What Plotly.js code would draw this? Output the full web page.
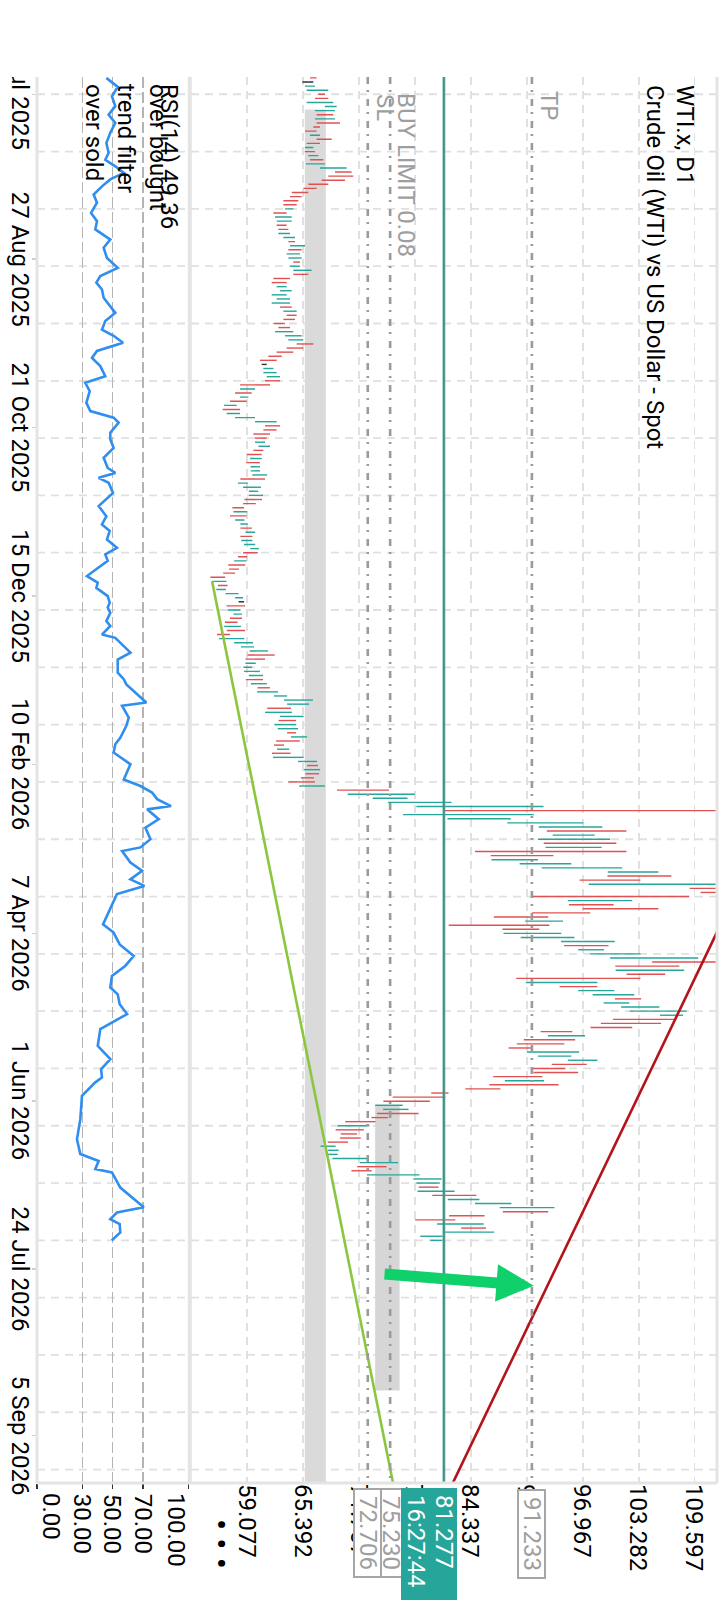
<!DOCTYPE html>
<html>
<head>
<meta charset="utf-8">
<script src="https://cdn.plot.ly/plotly-3.0.1.min.js"></script>
<style>
html,body{margin:0;padding:0;background:#fff;overflow:hidden;width:720px;height:1600px;}
#wrap{position:absolute;left:0;top:0;width:1600px;height:720px;transform-origin:0 0;transform:translateX(720px) rotate(90deg);}
#chart{width:1600px;height:720px;}
</style>
</head>
<body>
<div id="wrap"><div id="chart"></div></div>
<script>
// ---------- DATA ----------
// daily bars: index 0 = first bar shown; low / high / direction (u = up, d = down, n = neutral)
const barLow = [
66.18,65.32,65.62,65.81,67.12,66.75,65.81,67.87,66.75,66.93,
66.75,66.93,66.56,65.62,66.18,66.93,65.81,65.62,65.62,65.99,
66.18,65.73,67.31,69.00,68.25,67.50,65.99,65.43,64.12,63.93,
63.18,63.18,63.36,62.05,62.24,62.42,62.42,62.61,62.61,63.18,
63.74,63.93,63.74,63.55,63.74,64.30,63.93,64.30,64.30,62.05,
61.86,62.42,62.80,61.86,62.42,61.86,62.80,63.18,63.55,63.18,
62.05,62.61,62.24,63.36,63.74,64.68,63.55,62.42,61.48,60.54,
60.73,60.92,60.92,61.30,61.11,58.29,58.29,57.72,58.29,57.16,
56.48,56.33,56.78,57.72,59.98,61.11,60.92,59.79,59.98,59.98,
60.36,59.79,59.04,59.42,58.98,59.48,59.48,59.68,58.32,58.05,
58.63,59.29,59.29,58.78,58.63,57.42,57.54,57.15,57.73,58.32,
58.32,58.90,58.32,58.43,58.74,59.44,58.63,58.05,57.62,56.96,
57.04,56.38,54.94,55.13,55.79,55.60,56.65,57.73,58.12,56.76,
56.88,57.54,57.15,56.57,56.49,56.80,55.68,55.91,57.62,58.39,
59.37,59.13,58.90,58.90,58.67,58.74,59.29,58.94,59.52,60.26,
60.22,62.12,63.25,63.60,61.35,61.11,62.78,62.63,62.16,62.55,
63.60,64.03,62.36,62.12,62.47,61.89,62.01,64.84,65.85,65.50,
65.66,65.15,63.72,64.96,69.23,70.44,73.27,74.98,78.20,81.23,
76.69,81.70,88.46,91.99,92.92,93.58,91.91,92.57,92.77,84.81,
86.59,86.67,89.85,92.34,99.80,99.76,96.61,97.66,109.04,110.28,
91.21,95.29,95.41,96.96,91.25,86.94,90.48,81.85,87.91,88.03,
89.97,94.52,94.87,96.46,97.82,100.07,104.81,100.65,100.69,101.93,
89.47,90.55,94.36,96.46,98.09,100.61,99.33,101.31,102.28,105.70,
100.38,99.02,97.86,92.22,93.04,90.32,89.54,88.61,90.67,91.91,
95.29,93.47,91.29,91.41,86.86,88.18,86.44,83.72,79.87,75.52,
74.47,73.54,74.44,73.74,73.12,70.16,69.31,69.08,69.66,69.58,
68.18,67.37,68.22,68.22,68.73,71.83,71.52,70.86,72.61,77.85,
78.20,78.47,78.32,79.99,81.74,84.81,87.60,87.95,81.89,78.05,
80.53,83.25,81.27,78.63,79.76];
const barHigh = [
66.93,66.56,66.75,68.25,67.87,68.25,68.81,69.19,69.00,68.81,
69.00,69.57,67.31,66.93,67.31,68.63,67.31,66.56,66.75,67.12,
67.69,67.87,70.32,70.88,71.07,70.13,68.25,66.93,65.99,65.24,
64.87,64.68,64.30,63.55,64.12,64.12,63.55,63.74,63.93,64.49,
64.49,65.62,65.24,65.06,65.24,65.06,65.06,66.37,65.99,63.93,
63.55,63.55,64.12,63.55,63.93,63.93,64.12,64.68,64.68,64.49,
63.36,63.93,64.30,65.24,65.43,66.56,65.43,64.30,62.99,62.42,
61.30,62.05,62.42,62.80,62.80,61.67,59.98,59.60,59.23,59.04,
57.91,58.29,58.29,59.98,62.42,62.80,62.42,61.67,61.30,61.11,
61.67,60.92,60.73,60.73,60.53,60.53,60.53,61.35,61.11,59.17,
60.65,60.34,60.88,60.76,60.06,58.74,59.09,59.02,58.78,59.17,
59.64,59.99,59.68,59.68,59.99,60.41,60.30,59.09,59.02,58.86,
58.16,57.73,56.61,56.76,56.88,56.69,58.12,58.63,58.74,58.86,
58.32,58.51,58.51,58.01,58.39,58.86,57.15,58.78,59.75,59.87,
61.46,62.20,61.11,60.06,59.64,60.53,60.88,60.88,61.31,61.66,
62.59,63.60,66.51,66.09,64.03,64.14,65.46,64.61,64.61,64.84,
64.61,65.85,65.04,63.25,63.83,63.99,65.46,66.98,67.09,67.33,
67.21,66.63,66.75,67.87,75.10,78.01,77.19,82.16,92.54,113.5,
91.45,88.85,97.04,99.18,101.90,98.32,100.07,100.77,99.10,101.90,
93.66,91.91,95.68,101.43,105.51,106.98,103.49,113.5,113.5,113.5,
109.00,102.56,100.46,105.51,97.82,93.08,94.75,93.20,92.07,94.55,
96.03,100.58,99.88,99.37,103.49,110.01,113.5,107.88,108.42,106.28,
103.49,98.63,98.63,100.54,102.79,103.57,102.24,105.62,108.69,108.30,
107.45,105.82,102.56,95.80,97.23,96.11,94.90,91.21,96.57,95.68,
98.63,97.43,95.02,96.46,92.42,92.61,94.24,87.68,81.82,81.47,
79.72,76.65,77.31,78.44,74.98,73.58,72.88,72.26,71.48,71.91,
70.47,69.08,69.43,69.31,72.77,76.14,74.82,73.15,78.55,81.04,
80.84,80.69,82.51,84.96,85.31,88.92,93.78,93.08,85.89,82.59,
85.78,86.05,86.98,81.15,81.12];
const barDir = ("dnuudduuud"+"uddduddudu"+"duuddddddd"+"dduduudduu"+"duduuduudd"+
  "duuuuududd"+"dduuuddddd"+"nuuuddudud"+"uduuuddddu"+"udduduuudu"+
  "uuuddduduu"+"duduuuddud"+"ddduduuund"+"uuddudduuu"+"udduuuudud"+
  "uuuuduuduu"+"dudduduudu"+"ddduduuuud"+"uuuuduudud"+"duuuuddudd"+
  "dudddduddu"+"uuduuuddud"+"duduuduuuu"+"dddduddduu"+"uddddudddd"+
  "duuddduddd"+"duuuuudduu"+"ududuuuddd"+"uduuu").split('');

// RSI(14) line (bar index, value)
const rsiIdx = [0,2.2,4.5,6.9,9,11,13.4,15.9,18.3,20,21.6,23.2,24.8,26.5,28.5,30.5,33,35,37,39.5,
41.5,44,46.4,48.4,50,51.7,53.7,55.8,57.4,59.4,61.5,63,64.7,66.7,68.4,70.4,72.9,74.5,76.5,79.4,
81.4,83,84.2,86.7,88.3,90.4,92.8,95.3,96.5,97.7,98.9,101.4,104.6,107.1,109.1,110.7,112.8,114.8,116.4,118,
121.7,123.3,124.6,126.6,128.2,129.4,130.7,132.7,133.9,136,136.8,140.4,142.1,145.3,146.9,148.2,152.6,153.4,156.3,158.3,
161.2,162.8,164.8,167.7,171.4,173,174.6,176.2,177.9,178.7,181.1,183.2,186,188,188.9,191.7,193.7,195.8,197.4,199.4,
203.9,206.8,208.8,211.7,214.5,216.9,219.4,222.2,223.9,226.3,228.7,232.4,236.5,239.7,242.2,244.2,245.4,248.7,254.4,259.3,
262.9,264.6,266.6,267.4,271.1,273.9,275.9,277.2,278.8,280,282.1,284];
const rsiVal = [45.8,53.3,49.5,51.7,47.3,51.7,48.4,45.8,47.3,45.1,51.7,57.3,48.4,42.9,37.4,39.6,35.7,39.6,38.5,48.4,
44.0,46.2,53.3,41.8,39.2,42.9,44.0,48.4,51.7,45.1,42.9,50.6,56.8,39.6,36.3,41.8,45.1,31.9,34.8,32.6,
35.2,50.6,53.9,48.4,48.4,50.6,44.0,46.7,51.7,40.7,47.3,50.2,40.7,45.8,42.9,48.0,46.2,52.8,45.1,46.7,
33.0,40.1,39.2,46.7,48.0,46.7,48.4,45.8,48.4,42.9,51.7,61.7,53.3,53.3,57.3,59.0,72.2,56.2,60.6,59.0,
55.0,51.7,50.6,61.7,57.3,68.3,76.0,79.3,88.5,72.7,80.4,71.6,74.9,68.3,56.2,61.7,69.4,61.7,70.9,52.8,
47.3,43.6,50.6,54.6,63.9,58.4,49.5,48.4,53.3,54.6,59.5,41.8,40.1,48.4,42.3,42.9,38.5,29.7,28.6,26.4,
28.6,40.7,38.5,49.5,55.0,63.9,70.5,52.8,48.4,54.6,55.0,49.36];

// axes
const priceTicks = [59.077,65.392,71.707,78.022,84.337,90.652,96.967,103.282,109.597];
const rsiTicks = [0,30,50,70,100];
const rsiTickText = ['','30.00','50.00','70.00',''];
const dateTickIdx = [4.0,44.3,85.4,126.6,167.7,209.0,249.9,291.0,331.7];
const dateLabels = ['1 Jul 2025','27 Aug 2025','21 Oct 2025','15 Dec 2025','10 Feb 2026','7 Apr 2026','1 Jun 2026','24 Jul 2026','5 Sep 2026'];
const dateGridIdx = [4,18,32,46,60,74,88,102,116,130,144,158,172,186,200,214,228,242,256,270,284,298,312,326,340];

// levels / drawings
const tpPrice = 91.233, buyLimitPrice = 75.230, slPrice = 72.706, lastPrice = 81.277, askPrice = 81.39;
const lastTime = '16:27:44';
const rsiLast = 49.36;
const zone1 = {x:[7.7, 345], y:[65.60, 67.97]};
const zone2 = {x:[250.9, 320.7], y:[73.54, 76.30]};
const greenTrend = {x:[123, 343.3], y:[55.13, 75.56]};
const redTrend = {x:[208.7, 343.3], y:[112.13, 82.30]};
const arrowTail = [292.2, 74.43], arrowHead = [295.1, 91.45];

// ---------- FIGURE ----------
function segs(dir){
  const x=[],y=[];
  for(let i=0;i<barLow.length;i++){ if(barDir[i]===dir){ x.push(i,i,null); y.push(barLow[i],barHigh[i],null);} }
  return {x,y};
}
const up=segs('u'), dn=segs('d'), nt=segs('n');
const traces = [
  {type:'scatter',mode:'lines',x:up.x,y:up.y,line:{color:'#26a69a',width:1.4},hoverinfo:'skip',connectgaps:false},
  {type:'scatter',mode:'lines',x:dn.x,y:dn.y,line:{color:'#e05252',width:1.4},hoverinfo:'skip',connectgaps:false},
  {type:'scatter',mode:'lines',x:nt.x,y:nt.y,line:{color:'#333333',width:1.4},hoverinfo:'skip',connectgaps:false},
  {type:'scatter',mode:'lines',x:greenTrend.x,y:greenTrend.y,line:{color:'#8cc63f',width:2.6},hoverinfo:'skip'},
  {type:'scatter',mode:'lines',x:redTrend.x,y:redTrend.y,line:{color:'#b3141c',width:2.6},hoverinfo:'skip'},
  {type:'scatter',mode:'lines',x:rsiIdx,y:rsiVal,yaxis:'y2',line:{color:'#2f8ef0',width:2.6},hoverinfo:'skip'}
];

const gridCol='#e0e0e0', gridDash='8px,6px';
const shapes = [];
dateGridIdx.forEach(g=>shapes.push({type:'line',xref:'x',yref:'paper',x0:g,x1:g,y0:0,y1:1,layer:'below',line:{color:gridCol,width:1.8,dash:gridDash}}));
shapes.push({type:'rect',xref:'x',yref:'y',x0:zone1.x[0],x1:zone1.x[1],y0:zone1.y[0],y1:zone1.y[1],layer:'below',fillcolor:'#dadada',line:{width:0}});
shapes.push({type:'rect',xref:'x',yref:'y',x0:zone2.x[0],x1:zone2.x[1],y0:zone2.y[0],y1:zone2.y[1],layer:'below',fillcolor:'#d6d6d6',line:{width:0}});
const lvlDash='7px,6px,2px,7px';
[tpPrice,buyLimitPrice,slPrice].forEach(p=>shapes.push({type:'line',xref:'paper',yref:'y',x0:0,x1:1,y0:p,y1:p,layer:'above',line:{color:'#9a9a9a',width:2.6,dash:lvlDash}}));
shapes.push({type:'line',xref:'paper',yref:'y',x0:0,x1:1,y0:askPrice,y1:askPrice,layer:'above',line:{color:'#e57373',width:1.2}});
shapes.push({type:'line',xref:'paper',yref:'y',x0:0,x1:1,y0:lastPrice,y1:lastPrice,layer:'above',line:{color:'#2a9d94',width:2.2}});
// frame
const frameCol='#e4e4e4';
shapes.push({type:'line',xref:'paper',yref:'paper',x0:0,x1:1,y0:1,y1:1,layer:'above',line:{color:frameCol,width:3}});
shapes.push({type:'line',xref:'paper',yref:'paper',x0:1,x1:1,y0:0,y1:1,layer:'above',line:{color:frameCol,width:3}});
shapes.push({type:'line',xref:'paper',yref:'paper',x0:0,x1:1,y0:0,y1:0,layer:'above',line:{color:frameCol,width:3}});
shapes.push({type:'line',xref:'paper',yref:'paper',x0:0,x1:1,y0:0.2247,y1:0.2247,layer:'above',line:{color:frameCol,width:4}});
// clip of first date label at the left edge of the chart
shapes.push({type:'rect',xref:'paper',yref:'paper',x0:-0.06,x1:0,y0:-0.07,y1:-0.003,layer:'above',fillcolor:'#ffffff',line:{width:0}});

const F = 'Roboto, sans-serif';
const txt = (o)=>Object.assign({showarrow:false,font:{family:F,size:24,color:'#000'}},o);
const grey = '#9e9e9e';
const annotations = [
  txt({xref:'paper',yref:'paper',x:0.0043,y:1,xanchor:'left',yanchor:'top',yshift:-16,text:'WTI.x, D1'}),
  txt({xref:'paper',yref:'paper',x:0.0043,y:1,xanchor:'left',yanchor:'top',yshift:-45.5,text:'Crude Oil (WTI) vs US Dollar - Spot'}),
  txt({xref:'paper',yref:'y',x:0.0085,y:tpPrice,xanchor:'left',yanchor:'bottom',yshift:1,text:'TP',font:{family:F,size:24,color:grey}}),
  txt({xref:'paper',yref:'y',x:0.0097,y:buyLimitPrice,xanchor:'left',yanchor:'bottom',yshift:0,text:'BUY LIMIT 0.08',font:{family:F,size:24,color:grey}}),
  txt({xref:'paper',yref:'y',x:0.0104,y:slPrice,xanchor:'left',yanchor:'bottom',yshift:1,text:'SL',font:{family:F,size:24,color:grey}}),
  txt({xref:'paper',yref:'paper',x:0.0038,y:0.2181,xanchor:'left',yanchor:'top',text:'RSI(14) '+rsiLast.toFixed(2)}),
  txt({xref:'paper',yref:'paper',x:0.0038,y:0.2010,xanchor:'left',yanchor:'top',text:'over bought'}),
  txt({xref:'paper',yref:'paper',x:0.0038,y:0.1544,xanchor:'left',yanchor:'top',text:'trend filter'}),
  txt({xref:'paper',yref:'paper',x:0.0038,y:0.1069,xanchor:'left',yanchor:'top',text:'over sold'}),
  // price boxes on the axis
  txt({xref:'paper',yref:'y',x:1.0039,y:buyLimitPrice,xanchor:'left',yanchor:'middle',text:buyLimitPrice.toFixed(3),font:{family:F,size:24,color:grey},bgcolor:'#fff',bordercolor:'#a6a6a6',borderwidth:2,borderpad:0,width:86,height:25}),
  txt({xref:'paper',yref:'y',x:1.0039,y:slPrice,xanchor:'left',yanchor:'middle',text:slPrice.toFixed(3),font:{family:F,size:24,color:grey},bgcolor:'#fff',bordercolor:'#a6a6a6',borderwidth:2,borderpad:0,width:86,height:25}),
  txt({xref:'paper',yref:'y',x:1.0046,y:tpPrice,xanchor:'left',yanchor:'middle',text:tpPrice.toFixed(3),font:{family:F,size:24,color:grey},bgcolor:'#fff',bordercolor:'#a6a6a6',borderwidth:2,borderpad:0,width:86,height:25}),
  txt({xref:'paper',yref:'y',x:1.0034,y:lastPrice,xanchor:'left',yanchor:'middle',text:'\u00a0'+lastPrice.toFixed(3),align:'left',font:{family:F,size:24,color:'#fff'},bgcolor:'#26a69a',borderwidth:0,borderpad:1,width:124,height:25}),
  txt({xref:'paper',yref:'y',x:1.0034,y:lastPrice,xanchor:'left',yanchor:'top',yshift:-13.9,text:'\u00a0'+lastTime,align:'left',font:{family:F,size:24,color:'#fff'},bgcolor:'#26a69a',borderwidth:0,borderpad:1,width:124,height:26.5}),
  // RSI end labels
  txt({xref:'paper',yref:'paper',x:1.0060,y:0.0202,xanchor:'left',yanchor:'middle',text:'0.00'}),
  txt({xref:'paper',yref:'paper',x:1.0060,y:0.2045,xanchor:'left',yanchor:'middle',text:'100.00'}),
  txt({xref:'paper',yref:'paper',x:1.0434,y:0.2692,xanchor:'center',yanchor:'middle',text:'• • •',font:{family:F,size:33,color:'#000'}}),
  // green arrow
  {xref:'x',yref:'y',axref:'x',ayref:'y',x:arrowHead[0],y:arrowHead[1],ax:arrowTail[0],ay:arrowTail[1],text:'',showarrow:true,arrowhead:2,arrowsize:0.68,arrowwidth:11,arrowcolor:'#0fd06b',standoff:0}
];

const layout = {
  width:1600,height:720,
  margin:{l:77,r:116.5,t:2.5,b:36.7,pad:0},
  paper_bgcolor:'#ffffff',plot_bgcolor:'rgba(0,0,0,0)',
  showlegend:false,
  font:{family:F,size:24,color:'#000'},
  xaxis:{range:[-0.22,343.28],anchor:'y2',tickmode:'array',tickvals:dateTickIdx,ticktext:dateLabels,
    showgrid:false,zeroline:false,showline:false,ticks:'outside',ticklen:4,tickwidth:1.5,tickcolor:'#cfcfcf',
    ticklabelstandoff:-9,
    tickfont:{family:F,size:24,color:'#000'},fixedrange:true},
  yaxis:{domain:[0.2266,1],range:[52.76,112.13],side:'right',anchor:'x',tickmode:'array',tickvals:priceTicks,
    ticktext:priceTicks.map(v=>v.toFixed(3)),showgrid:true,gridcolor:gridCol,griddash:gridDash,gridwidth:1.8,
    zeroline:false,showline:false,ticks:'',tickfont:{family:F,size:24,color:'#000'},fixedrange:true},
  yaxis2:{domain:[0,0.2227],range:[0,100],side:'right',anchor:'x',tickmode:'array',tickvals:rsiTicks,ticktext:rsiTickText,
    showgrid:true,gridcolor:'#b4b4b4',griddash:'11px,4px',gridwidth:1.2,zeroline:false,showline:false,
    ticks:'outside',ticklen:5,tickwidth:1.5,tickcolor:'#333',tickfont:{family:F,size:24,color:'#000'},fixedrange:true},
  shapes:shapes,
  annotations:annotations
};

Plotly.newPlot('chart',traces,layout,{staticPlot:true,displayModeBar:false});
</script>
</body>
</html>
